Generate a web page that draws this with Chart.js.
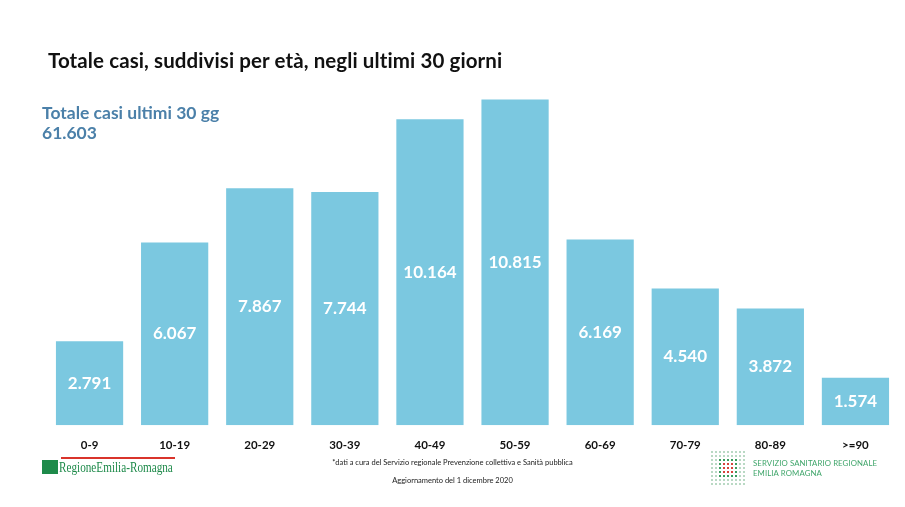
<!DOCTYPE html>
<html>
<head>
<meta charset="utf-8">
<script src="https://cdn.jsdelivr.net/npm/chart.js@4"></script>
<style>
  body { margin: 0; background: #fff; font-family: Lato, "Open Sans", sans-serif; }
  #wrap { position: relative; width: 905px; height: 507px; overflow: hidden; }
  #chart { position: absolute; left: 0; top: 0; }
  .txt { position: absolute; white-space: nowrap; }
  #title { left: 48px; top: 48px; font-size: 20.5px; font-weight: 700; color: #111; letter-spacing: 0.1px; }
  #sub { left: 42px; top: 103px; font-size: 17.5px; font-weight: 700; color: #4b80a9; line-height: 20px; }
  #note1 { left: 0; width: 905px; text-align: center; top: 458px; font-size: 7.5px; color: #222; }
  #note2 { left: 0; width: 905px; text-align: center; top: 476px; font-size: 7.5px; color: #222; }
  #rer { left: 59px; top: 460px; font-family: "Liberation Serif", serif; font-size: 14px; color: #1e8a4a; transform: scaleX(0.8); transform-origin: left top; }
  #rerbar { left: 61px; top: 457px; width: 114px; height: 2px; background: #d9342b; }
  #rerflag { left: 42px; top: 460px; width: 16px; height: 14px; background: #1e8a4a; }
  #ssr { left: 753px; top: 458px; font-size: 7.8px; color: #3fa56a; line-height: 10px; letter-spacing: 0.1px; }
</style>
</head>
<body>
<div id="wrap">
  <canvas id="chart" width="905" height="507"></canvas>
  <div class="txt" id="title">Totale casi, suddivisi per età, negli ultimi 30 giorni</div>
  <div class="txt" id="sub">Totale casi ultimi 30 gg<br>61.603</div>
  <div class="txt" id="note1">*dati a cura del Servizio regionale Prevenzione collettiva e Sanità pubblica</div>
  <div class="txt" id="note2">Aggiornamento del 1 dicembre 2020</div>
  <div class="txt" id="rerbar"></div>
  <div class="txt" id="rerflag"></div>
  <div class="txt" id="rer">RegioneEmilia-Romagna</div>
  <canvas class="txt" id="dots" width="36" height="38" style="left:710px;top:449px"></canvas>
  <div class="txt" id="ssr">SERVIZIO SANITARIO REGIONALE<br>EMILIA ROMAGNA</div>
</div>
<script>
const ageGroups = ['0-9', '10-19', '20-29', '30-39', '40-49', '50-59', '60-69', '70-79', '80-89', '>=90'];
const cases = [2791, 6067, 7867, 7744, 10164, 10815, 6169, 4540, 3872, 1574];

const fmt = v => v.toLocaleString('it-IT');

const valueLabels = {
    id: 'valueLabels',
    afterDatasetsDraw(chart) {
        const ctx = chart.ctx;
        const meta = chart.getDatasetMeta(0);
        ctx.save();
        ctx.fillStyle = '#ffffff';
        ctx.font = 'bold 17px Lato, "Open Sans", sans-serif';
        ctx.textAlign = 'center';
        ctx.textBaseline = 'middle';
        meta.data.forEach((bar, i) => {
            ctx.fillText(fmt(cases[i]), bar.x, (bar.y + bar.base) / 2);
        });
        ctx.restore();
    }
};

new Chart(document.getElementById('chart').getContext('2d'), {
    type: 'bar',
    data: {
        labels: ageGroups,
        datasets: [{
            data: cases,
            backgroundColor: '#7bc8e0',
            barPercentage: 0.79,
            categoryPercentage: 1
        }]
    },
    options: {
        responsive: false,
        animation: false,
        layout: { padding: { left: 47, right: 7, top: 94, bottom: 50 } },
        plugins: { legend: { display: false }, tooltip: { enabled: false } },
        scales: {
            x: {
                grid: { display: false },
                border: { display: false },
                ticks: { color: '#111', padding: 5, font: { family: 'Lato', size: 11.5, weight: 'bold' } }
            },
            y: { display: false, min: 0, max: 11000 }
        }
    },
    plugins: [valueLabels]
});

// small dotted logo
const d = document.getElementById('dots').getContext('2d');
for (let r = 0; r < 9; r++) {
    for (let c = 0; c < 9; c++) {
        const dx = Math.abs(c - 4), dy = Math.abs(r - 4);
        let col = '#b9d9c4';
        if (dx <= 2 && dy <= 2) col = '#3a9d5e';
        if (dx <= 1 && dy <= 1) col = '#d8433b';
        d.fillStyle = col;
        d.fillRect(c * 4 + 1, r * 4 + 2, 2, 2);
    }
}
</script>
</body>
</html>
